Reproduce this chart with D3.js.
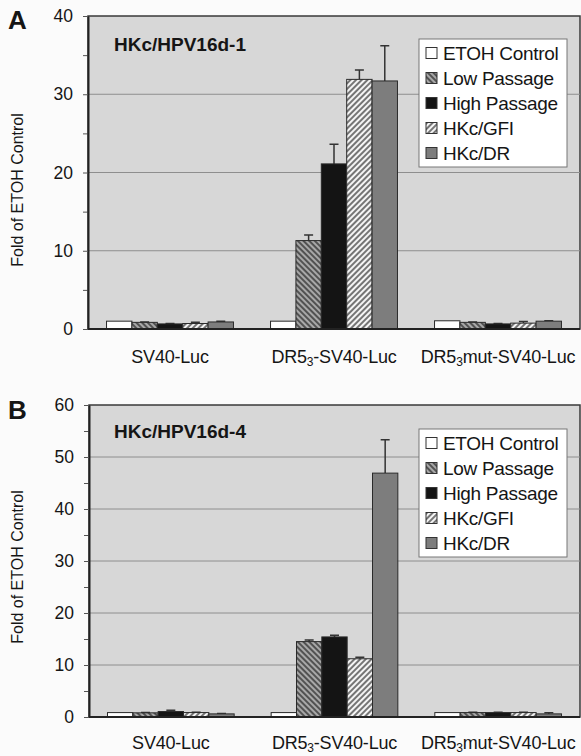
<!DOCTYPE html>
<html>
<head>
<meta charset="utf-8">
<script src="https://cdn.jsdelivr.net/npm/d3@7"></script>
<style>
    body { margin: 0; background: #fbfbfb; }
    text { font-family: "Liberation Sans", Arial, sans-serif; fill: #151515; }
</style>
</head>
<body>
<svg id="chart" width="581" height="756"></svg>
<script>
(function () {
    "use strict";

    // categories and series (the "_3" is drawn as a subscript)
    const categories = ["SV40-Luc", "DR5_3-SV40-Luc", "DR5_3mut-SV40-Luc"];
    const seriesNames = ["ETOH Control", "Low Passage", "High Passage", "HKc/GFI", "HKc/DR"];

    // panel A - HKc/HPV16d-1 (rows = categories, cols = series)
    const hpv1Values = [
        [1.0, 0.85, 0.65, 0.7, 0.9],
        [1.0, 11.3, 21.1, 31.9, 31.7],
        [1.05, 0.85, 0.65, 0.75, 1.0]
    ];
    const hpv1Errors = [
        [0, 0.05, 0.05, 0.15, 0.1],
        [0, 0.7, 2.5, 1.2, 4.5],
        [0, 0.05, 0.05, 0.2, 0.05]
    ];
    const hpv1Ticks = [0, 10, 20, 30, 40];

    // panel B - HKc/HPV16d-4
    const hpv4Values = [
        [0.85, 0.8, 1.05, 0.85, 0.6],
        [0.85, 14.5, 15.4, 11.2, 46.9],
        [0.85, 0.85, 0.85, 0.85, 0.6]
    ];
    const hpv4Errors = [
        [0, 0.05, 0.25, 0.05, 0.05],
        [0, 0.3, 0.3, 0.3, 6.4],
        [0, 0.05, 0.05, 0.05, 0.2]
    ];
    const hpv4Ticks = [0, 10, 20, 30, 40, 50, 60];

    let svg = d3.select("#chart");
    let defs = svg.append("defs");

    // hatch patterns
    let makeHatch = (id, bg, line, angle, w) => {
        let p = defs.append("pattern")
            .attr("id", id)
            .attr("patternUnits", "userSpaceOnUse")
            .attr("width", 4).attr("height", 4)
            .attr("patternTransform", "rotate(" + angle + ")");
        p.append("rect").attr("width", 4).attr("height", 4).attr("fill", bg);
        p.append("line").attr("x1", 1).attr("x2", 1).attr("y1", 0).attr("y2", 4)
            .attr("stroke", line).attr("stroke-width", w);
    };
    makeHatch("lowHatch", "#a8a8a8", "#3c3c3c", -45, 1.6);
    makeHatch("gfiHatch", "#f4f4f4", "#4a4a4a", 45, 1.5);

    let fills = ["#ffffff", "url(#lowHatch)", "#141414", "url(#gfiHatch)", "#7d7d7d"];

    let addCategoryText = (sel, name) => {
        let parts = name.split("_3");
        sel.append("tspan").text(parts[0]);
        if (parts.length > 1) {
            sel.append("tspan").attr("font-size", "12px").attr("dy", 3).text("3");
            sel.append("tspan").attr("dy", -3).text(parts[1]);
        }
    };

    let drawPanel = (cfg) => {
        let y = d3.scaleLinear().domain([0, cfg.ticks[cfg.ticks.length - 1]]).range([cfg.bottom, cfg.top]);
        let x0 = d3.scaleBand().domain(categories).range([cfg.left, cfg.right])
            .paddingInner(0.226).paddingOuter(0.113);
        let x1 = d3.scaleBand().domain(seriesNames).range([0, x0.bandwidth()]);

        let g = svg.append("g");

        // plot area
        g.append("rect")
            .attr("x", cfg.left).attr("y", cfg.top)
            .attr("width", cfg.right - cfg.left).attr("height", cfg.bottom - cfg.top)
            .attr("fill", "#d7d7d7").attr("stroke", "#3a3a3a").attr("stroke-width", 1.5);

        // gridlines
        g.selectAll(".grid")
            .data(cfg.ticks.slice(1, -1))
            .enter()
            .append("line")
            .attr("x1", cfg.left).attr("x2", cfg.right)
            .attr("y1", (d) => y(d)).attr("y2", (d) => y(d))
            .attr("stroke", "#8e8e8e").attr("stroke-width", 1);

        // minor ticks
        let minor = d3.range(5, cfg.ticks[cfg.ticks.length - 1], 10);
        g.append("g")
            .attr("transform", "translate(" + cfg.left + ",0)")
            .call(d3.axisLeft(y).tickValues(minor).tickSize(5).tickFormat(""))
            .call((a) => a.select(".domain").remove())
            .selectAll("line").attr("stroke", "#555");

        // major axis
        let yAxis = g.append("g")
            .attr("transform", "translate(" + cfg.left + ",0)")
            .call(d3.axisLeft(y).tickValues(cfg.ticks).tickSize(5).tickPadding(10).tickSizeOuter(0));
        yAxis.select(".domain").attr("stroke", "#222").attr("stroke-width", 2);
        yAxis.selectAll("line").attr("stroke", "#555");
        yAxis.selectAll("text").attr("font-size", "17.5px").attr("fill", "#151515");

        // bars
        let groups = g.selectAll(".grp")
            .data(categories)
            .enter()
            .append("g")
            .attr("transform", (d) => "translate(" + x0(d) + ",0)");

        groups.each(function (cat, ci) {
            let rows = seriesNames.map((s, si) => ({
                s: s, si: si, v: cfg.values[ci][si], e: cfg.errors[ci][si]
            }));
            let grp = d3.select(this);
            grp.selectAll("line.err")
                .data(rows.filter((r) => r.e > 0))
                .enter()
                .append("path")
                .attr("d", (r) => {
                    let cx = x1(r.s) + x1.bandwidth() / 2;
                    return "M" + cx + "," + y(r.v) + "V" + y(r.v + r.e) +
                        "M" + (cx - 4.5) + "," + y(r.v + r.e) + "H" + (cx + 4.5);
                })
                .attr("stroke", "#333").attr("stroke-width", 1.5).attr("fill", "none");
            grp.selectAll("rect")
                .data(rows)
                .enter()
                .append("rect")
                .attr("x", (r) => x1(r.s))
                .attr("y", (r) => y(r.v))
                .attr("width", x1.bandwidth())
                .attr("height", (r) => y(0) - y(r.v))
                .attr("fill", (r) => fills[r.si])
                .attr("stroke", "#2a2a2a").attr("stroke-width", 1);
        });

        // bottom axis line
        g.append("line")
            .attr("x1", cfg.left).attr("x2", cfg.right)
            .attr("y1", cfg.bottom).attr("y2", cfg.bottom)
            .attr("stroke", "#222").attr("stroke-width", 2);

        // category labels
        g.selectAll(".cat")
            .data(categories)
            .enter()
            .append("text")
            .attr("x", (d) => x0(d) + x0.bandwidth() / 2)
            .attr("y", cfg.catY)
            .attr("text-anchor", "middle")
            .attr("font-size", "18px")
            .attr("letter-spacing", "-0.2px")
            .each(function (d) { addCategoryText(d3.select(this), d); });

        // y label
        g.append("text")
            .attr("transform", "translate(23," + cfg.yLabelMid + ") rotate(-90)")
            .attr("text-anchor", "middle")
            .attr("font-size", "16px")
            .text("Fold of ETOH Control");

        // panel letter and title
        g.append("text").attr("x", 8).attr("y", cfg.letterY)
            .attr("font-size", "26px").attr("font-weight", "bold").text(cfg.letter);
        g.append("text").attr("x", 114).attr("y", cfg.titleY)
            .attr("font-size", "19px").attr("font-weight", "bold").attr("fill", "#333")
            .text(cfg.title);

        // legend
        let lg = g.append("g").attr("transform", "translate(" + cfg.legX + "," + cfg.legY + ")");
        lg.append("rect").attr("width", 148).attr("height", 128)
            .attr("fill", "#ffffff").attr("stroke", "#777").attr("stroke-width", 1);
        let items = lg.selectAll(".item")
            .data(seriesNames)
            .enter()
            .append("g")
            .attr("transform", (d, i) => "translate(7," + (14 + i * 25) + ")");
        items.append("rect")
            .attr("x", 0).attr("y", -5.5).attr("width", 11).attr("height", 11)
            .attr("fill", (d, i) => fills[i])
            .attr("stroke", "#333").attr("stroke-width", 1);
        items.append("text")
            .attr("x", 17).attr("y", 7)
            .attr("font-size", "19px")
            .attr("letter-spacing", "-0.3px")
            .text((d) => d);
    };

    drawPanel({
        letter: "A", letterY: 29, title: "HKc/HPV16d-1", titleY: 51,
        left: 88, right: 580, top: 16, bottom: 329,
        ticks: hpv1Ticks, values: hpv1Values, errors: hpv1Errors,
        catY: 363, yLabelMid: 190, legX: 419, legY: 39
    });

    drawPanel({
        letter: "B", letterY: 419, title: "HKc/HPV16d-4", titleY: 438,
        left: 89, right: 580, top: 405, bottom: 717,
        ticks: hpv4Ticks, values: hpv4Values, errors: hpv4Errors,
        catY: 749, yLabelMid: 567, legX: 419, legY: 429
    });
})();
</script>
</body>
</html>
